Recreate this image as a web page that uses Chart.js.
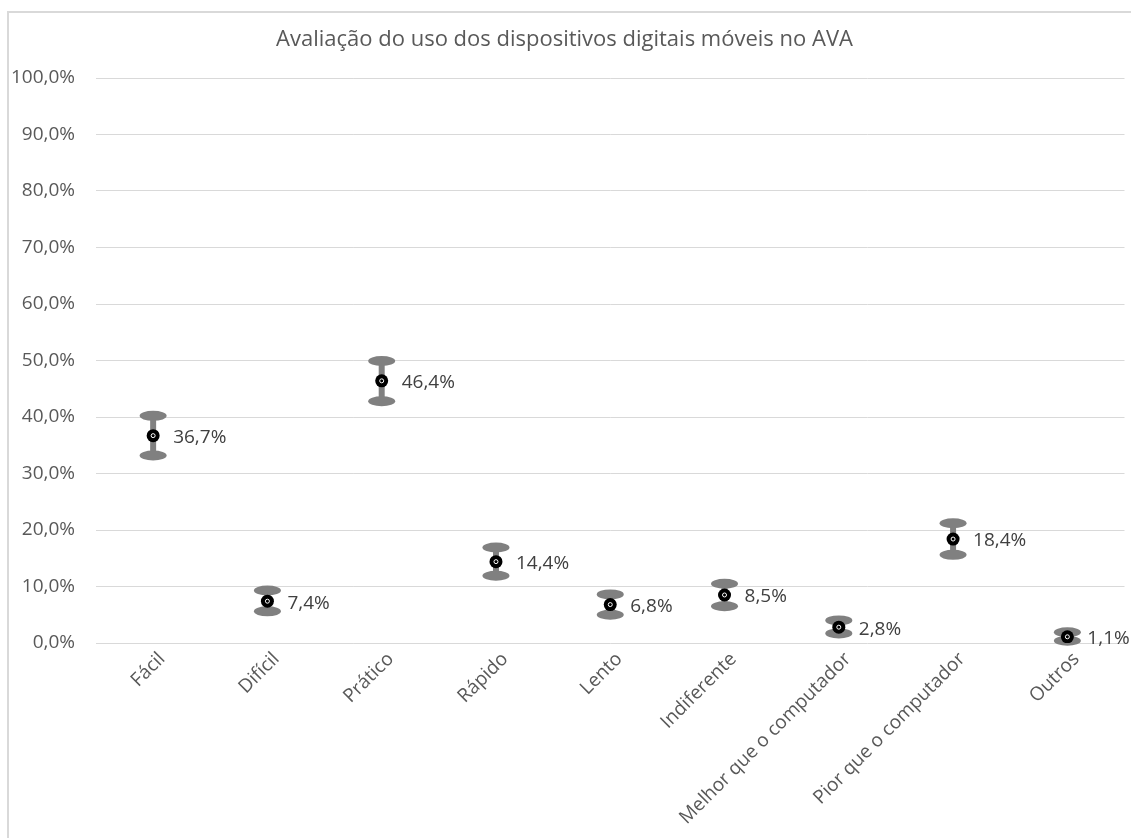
<!DOCTYPE html>
<html><head><meta charset="utf-8">
<script src="https://cdn.jsdelivr.net/npm/chart.js@4.4.0/dist/chart.umd.min.js"></script>
<style>html,body{margin:0;padding:0;background:#fff}#wrap{width:1131px;height:838px;position:relative}</style>
</head><body><div id="wrap"><canvas id="c" width="1131" height="838"></canvas></div>
<script>
const categories = ["Fácil","Difícil","Prático","Rápido","Lento","Indiferente","Melhor que o computador","Pior que o computador","Outros"];
const values = [36.7, 7.4, 46.4, 14.4, 6.8, 8.5, 2.8, 18.4, 1.1];
const upperBars = [40.2, 9.3, 49.9, 16.9, 8.6, 10.5, 4.0, 21.2, 1.9];
const lowerBars = [33.2, 5.6, 42.8, 11.9, 5.0, 6.5, 1.7, 15.6, 0.4];
const yTicks = [0,10,20,30,40,50,60,70,80,90,100];
const titleText = "Avaliação do uso dos dispositivos digitais móveis no AVA";
const FONT = "'Open Sans', sans-serif";

function pct(v){ return v.toFixed(1).replace('.', ',') + '%'; }

const borderPlugin = {
  id: 'border',
  beforeDraw(chart){
    const ctx = chart.ctx;
    ctx.save();
    ctx.fillStyle = '#fff';
    ctx.fillRect(0,0,chart.width,chart.height);
    ctx.strokeStyle = '#d9d9d9';
    ctx.lineWidth = 2;
    ctx.beginPath();
    ctx.moveTo(8, chart.height + 5);
    ctx.lineTo(8, 12);
    ctx.lineTo(chart.width + 5, 12);
    ctx.stroke();
    ctx.restore();
  }
};

const errPlugin = {
  id: 'errbars',
  beforeDatasetsDraw(chart){
    const ctx = chart.ctx, x = chart.scales.x, y = chart.scales.y;
    ctx.save();
    ctx.fillStyle = '#808080';
    ctx.strokeStyle = '#808080';
    for (let i = 0; i < values.length; i++){
      const px = x.getPixelForValue(i);
      const yu = y.getPixelForValue(upperBars[i]);
      const yl = y.getPixelForValue(lowerBars[i]);
      ctx.lineWidth = 6;
      ctx.beginPath(); ctx.moveTo(px, yu); ctx.lineTo(px, yl); ctx.stroke();
      ctx.beginPath(); ctx.ellipse(px, yu, 13.5, 5, 0, 0, Math.PI*2); ctx.fill();
      ctx.beginPath(); ctx.ellipse(px, yl, 13.5, 5, 0, 0, Math.PI*2); ctx.fill();
    }
    ctx.restore();
  },
  afterDatasetsDraw(chart){
    const ctx = chart.ctx, x = chart.scales.x, y = chart.scales.y;
    ctx.save();
    ctx.font = "19px " + FONT;
    ctx.textBaseline = 'middle';
    ctx.textAlign = 'left';
    for (let i = 0; i < values.length; i++){
      const px = x.getPixelForValue(i);
      const py = y.getPixelForValue(values[i]);
      ctx.strokeStyle = '#fff';
      ctx.lineWidth = 1;
      ctx.beginPath(); ctx.arc(px, py, 2, 0, Math.PI*2); ctx.stroke();
      ctx.fillStyle = '#404040';
      ctx.fillText(pct(values[i]), px + 20, py + 2);
    }
    ctx.restore();
  }
};

new Chart(document.getElementById('c'), {
  type: 'line',
  data: {
    labels: categories,
    datasets: [{
      data: values,
      showLine: false,
      pointRadius: 6.5,
      pointHoverRadius: 6.5,
      pointBackgroundColor: '#000',
      pointBorderColor: '#000',
      pointBorderWidth: 0
    }]
  },
  options: {
    responsive: false,
    animation: false,
    devicePixelRatio: 1,
    layout: { padding: { left: 0, right: 2, top: 0, bottom: 0 } },
    plugins: {
      legend: { display: false },
      tooltip: { enabled: false },
      title: {
        display: true,
        text: titleText,
        color: '#595959',
        font: { family: FONT, size: 22, weight: 'normal' },
        padding: { top: 27, bottom: 24.6 }
      }
    },
    scales: {
      x: {
        type: 'category',
        offset: true,
        grid: { display: false, drawTicks: false },
        border: { display: false },
        ticks: {
          color: '#595959',
          font: { family: FONT, size: 19 },
          maxRotation: 45, minRotation: 45,
          autoSkip: false,
          padding: 5,
          labelOffset: 9
        },
        afterFit(s){ s.height = 195; }
      },
      y: {
        min: 0, max: 100,
        afterBuildTicks(s){ s.ticks = yTicks.map(v => ({ value: v })); },
        grid: { color: '#d9d9d9', lineWidth: 1, drawTicks: false },
        border: { display: false },
        ticks: {
          color: '#595959',
          font: { family: FONT, size: 19 },
          padding: 21,
          callback: v => pct(v)
        },
        afterFit(s){ s.width = 96; }
      }
    }
  },
  plugins: [borderPlugin, errPlugin]
});
</script></body></html>
